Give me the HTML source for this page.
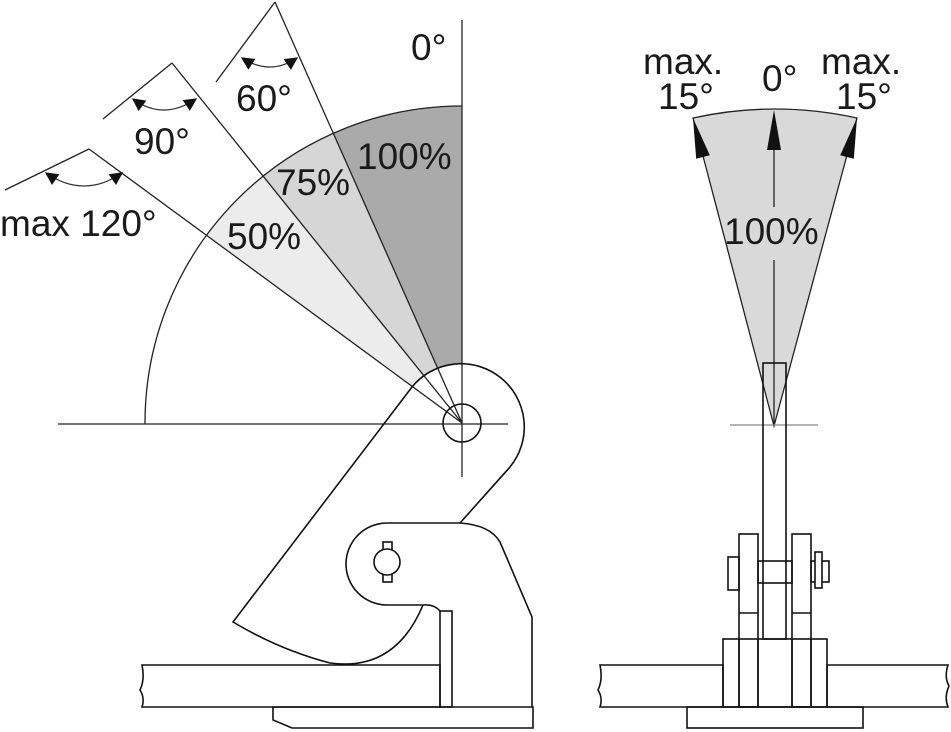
<!DOCTYPE html>
<html><head><meta charset="utf-8"><style>
html,body{margin:0;padding:0;background:#fff}
svg{display:block}
text{font-family:"Liberation Sans",Arial,sans-serif;fill:#1a1a1a}
</style></head><body>
<svg width="951" height="732" viewBox="0 0 951 732" xmlns="http://www.w3.org/2000/svg">
<defs>
<marker id="ah" viewBox="0 0 10 10" refX="9" refY="5" markerUnits="userSpaceOnUse" markerWidth="15" markerHeight="13" orient="auto-start-reverse"><path d="M0,0 L10,5 L0,10 z" fill="#111"/></marker>
</defs>
<g stroke="none">
<path d="M462,423 L462,106 A317,317 0 0 0 333,133 Z" fill="#aaaaaa"/>
<path d="M462,423 L333,133 A317,317 0 0 0 263,177 Z" fill="#d6d6d6"/>
<path d="M462,423 L263,177 A317,317 0 0 0 207,235 Z" fill="#ececec"/>
</g>
<path d="M145,424 A317,317 0 0 1 462,106" fill="none" stroke="#222" stroke-width="1.3"/>
<g fill="#fff" stroke="none">
<path d="M412,387 A61,61 0 1 1 510,467 L460,523 L387,523 A41,41 0 0 0 387,605 L423,605 Q380,680 330,663 Q280,650 233,622 Z"/>
</g>
<g stroke="#222" stroke-width="1.3" fill="none">
<line x1="462" y1="423" x2="275" y2="2"/>
<line x1="275" y1="2" x2="216" y2="82"/>
<line x1="462" y1="423" x2="172" y2="63"/>
<line x1="172" y1="63" x2="103" y2="119"/>
<line x1="462" y1="423" x2="89" y2="149"/>
<line x1="89" y1="149" x2="5" y2="190"/>
<line x1="462" y1="20" x2="462" y2="477"/>
<line x1="58" y1="424" x2="508" y2="424"/>
</g>
<g stroke="#333" stroke-width="1.2" fill="none">
<path d="M242,58 Q270,76 297,58" marker-start="url(#ah)" marker-end="url(#ah)"/>
<path d="M133,99 Q163,121 196,99" marker-start="url(#ah)" marker-end="url(#ah)"/>
<path d="M46,173 Q84,199 122,173" marker-start="url(#ah)" marker-end="url(#ah)"/>
</g>
<g stroke="#111" stroke-width="1.6" fill="none">
<circle cx="462" cy="423" r="19"/>
<path d="M412,387 A61,61 0 1 1 510,467 L460,523"/>
<path d="M412,387 L233,622 Q280,650 330,663 Q395,672 423,605"/>
<path d="M460,523 L387,523 A41,41 0 0 0 387,605 L423,605 Q434,604 440,611"/>
<path d="M460,523 Q490,525 500,542 L532,617 L532,707"/>
<rect x="440" y="611" width="12" height="96"/>
<rect x="383" y="542" width="9" height="40" fill="#fff"/>
<circle cx="387" cy="562" r="13" fill="#fff"/>
<path d="M142,665 L440,665 L440,707 L142,707 Q145,698 140,690 Q145,680 142,665 Z"/>
<path d="M273,707 L533,707 L533,728 L292,728 L273,720 Z"/>
</g>
<g font-size="37">
<text x="411" y="60">0°</text>
<text x="236" y="111">60°</text>
<text x="134" y="154">90°</text>
<text x="0" y="236">max 120°</text>
<text x="357" y="169">100%</text>
<text x="276" y="195">75%</text>
<text x="227" y="249">50%</text>
</g>

<path d="M774,426 L693,118 Q775,100 857,118 Z" fill="#d9d9d9" stroke="#222" stroke-width="1.3"/>
<g stroke="#222" stroke-width="1.3" fill="none">
<line x1="774" y1="426" x2="774" y2="260"/>
<line x1="774" y1="207" x2="774" y2="140"/>
<line x1="730" y1="425" x2="818" y2="425" stroke="#888"/>
</g>
<path d="M693,118 L709.8,155.2 L696.2,158.8 Z" fill="#111"/>
<path d="M857,118 L840.2,155.2 L853.8,158.8 Z" fill="#111"/>
<path d="M774,110 L767,150 L781,150 Z" fill="#111"/>
<g font-size="37">
<text x="643" y="74">max.</text>
<text x="658" y="109">15°</text>
<text x="762" y="91">0°</text>
<text x="821" y="74">max.</text>
<text x="836" y="109">15°</text>
<text x="724" y="244">100%</text>
</g>
<g stroke="#111" stroke-width="1.6" fill="none">
<rect x="763" y="363" width="23" height="276"/>
<rect x="739" y="534" width="19" height="173" fill="#fff"/>
<line x1="739" y1="613" x2="758" y2="613"/>
<rect x="792" y="534" width="19" height="173" fill="#fff"/>
<line x1="792" y1="613" x2="811" y2="613"/>
<rect x="758" y="561" width="34" height="22"/>
<rect x="728" y="557" width="11" height="33"/>
<rect x="811" y="561" width="18" height="21"/>
<rect x="815" y="552" width="7" height="36" fill="#fff"/>
<rect x="723" y="639" width="104" height="68"/>
<line x1="739" y1="639" x2="739" y2="707"/>
<line x1="758" y1="639" x2="758" y2="707"/>
<line x1="792" y1="639" x2="792" y2="707"/>
<line x1="811" y1="639" x2="811" y2="707"/>
<path d="M600,665 L723,665 L723,707 L600,707 Q603,698 598,690 Q603,680 600,665 Z"/>
<path d="M827,665 L948,665 Q944,677 949,686 Q944,697 948,707 L827,707 Z"/>
<rect x="687" y="707" width="176" height="21"/>
</g>
</svg>
</body></html>
